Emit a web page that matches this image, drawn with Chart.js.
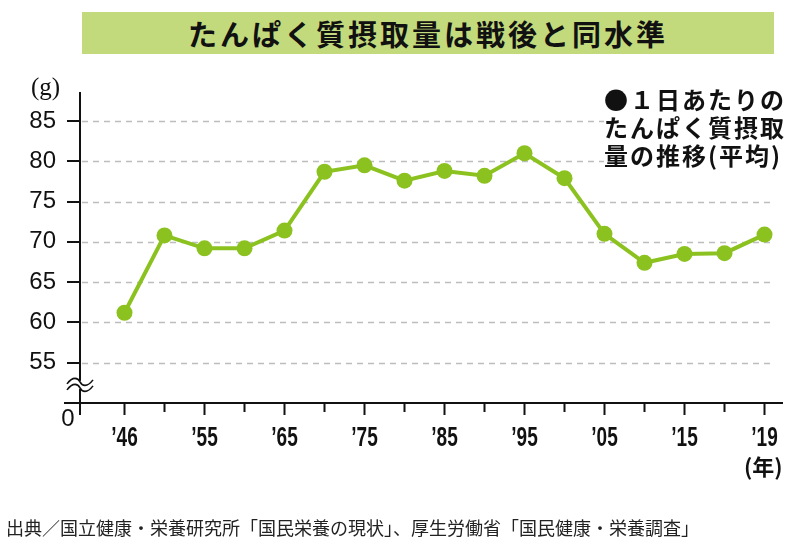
<!DOCTYPE html>
<html><head><meta charset="utf-8">
<script src="https://cdn.jsdelivr.net/npm/chart.js@4/dist/chart.umd.min.js"></script>
<style>
html,body{margin:0;padding:0;background:#fff;}
#wrap{position:relative;width:800px;height:554px;overflow:hidden;font-family:"Noto Sans CJK JP","Noto Sans",sans-serif;color:#111;}
#c{position:absolute;left:0;top:0;}
#title{position:absolute;left:82px;top:12px;width:692px;height:42px;background:#c3da7c;text-align:center;font-weight:bold;font-size:29px;line-height:42px;letter-spacing:3px;color:#111;}
#legend{position:absolute;left:604px;top:85px;width:196px;background:#fff;font-weight:bold;font-size:24px;line-height:28px;letter-spacing:2px;color:#111;white-space:nowrap;}
#unit{position:absolute;left:31px;top:73px;font-family:"Liberation Serif","Times New Roman",serif;font-size:25px;line-height:28px;color:#111;}
#year{position:absolute;left:744px;top:451px;font-weight:bold;font-size:22px;line-height:28px;color:#111;}
#src{position:absolute;left:6px;top:515px;font-size:18px;line-height:24px;color:#222;white-space:nowrap;}
</style></head>
<body>
<div id="wrap">
<canvas id="c" width="800" height="554"></canvas>
<div id="title">たんぱく質摂取量は戦後と同水準</div>
<div id="legend">●１日あたりの<br>たんぱく質摂取<br>量の推移(平均)</div>
<div id="unit">(g)</div>
<div id="year">(年)</div>
<div id="src">出典／国立健康・栄養研究所「国民栄養の現状」、厚生労働省「国民健康・栄養調査」</div>
</div>
<script>
const categories = ["’46","’50","’55","’60","’65","’70","’75","’80","’85","’90","’95","’00","’05","’10","’15","’17","’19"];
const protein = [61.2,70.8,69.2,69.2,71.4,78.7,79.5,77.6,78.8,78.2,81.0,77.9,71.0,67.4,68.5,68.6,70.9];
const labeledCategories = ["’46","’55","’65","’75","’85","’95","’05","’15","’19"];
const yTicks = [55,60,65,70,75,80,85];
const yBase = 50;      // axis break: shown as "0"
const yBaseLabel = "0";

const points = protein.map((v,i)=>({x:i,y:v}));

const axesPlugin = {
  id:'axesPlugin',
  beforeDatasetsDraw(chart){
    const ctx = chart.ctx, xs = chart.scales.x, ys = chart.scales.y, ca = chart.chartArea;
    ctx.save();
    // dashed grid
    ctx.strokeStyle = '#bdbdbd'; ctx.lineWidth = 1.5; ctx.setLineDash([6,5]);
    yTicks.forEach(t=>{
      const y = Math.round(ys.getPixelForValue(t))+0.5;
      ctx.beginPath(); ctx.moveTo(ca.left+2, y); ctx.lineTo(ca.right-8, y); ctx.stroke();
    });
    ctx.setLineDash([]);
    ctx.strokeStyle = '#111'; ctx.lineWidth = 2;
    // y ticks
    yTicks.forEach(t=>{
      const y = Math.round(ys.getPixelForValue(t));
      ctx.beginPath(); ctx.moveTo(ca.left-13, y); ctx.lineTo(ca.left, y); ctx.stroke();
    });
    // x axis
    const yb = ys.getPixelForValue(yBase);
    ctx.beginPath(); ctx.moveTo(ca.left-16, yb); ctx.lineTo(ca.right, yb); ctx.stroke();
    // y axis
    ctx.beginPath(); ctx.moveTo(ca.left, ca.top); ctx.lineTo(ca.left, yb+12); ctx.stroke();
    // x ticks
    categories.forEach((c,i)=>{
      const x = xs.getPixelForValue(i);
      const len = labeledCategories.includes(c) ? 12 : 9;
      ctx.beginPath(); ctx.moveTo(x, yb); ctx.lineTo(x, yb+len); ctx.stroke();
    });
    // x labels (condensed)
    ctx.fillStyle = '#111';
    ctx.font = 'bold 28px "Liberation Sans", Arial, sans-serif';
    ctx.textAlign = 'center'; ctx.textBaseline = 'middle';
    categories.forEach((c,i)=>{
      if(!labeledCategories.includes(c)) return;
      const x = xs.getPixelForValue(i);
      ctx.save();
      ctx.translate(x, yb+35);
      ctx.scale(0.68, 1);
      ctx.fillText(c, 0, 0);
      ctx.restore();
    });
    // axis break
    const yk = (ys.getPixelForValue(55)+yb)/2 + 2;
    const x0 = ca.left;
    ctx.fillStyle = '#fff';
    ctx.fillRect(x0-3, yk-4, 6, 8);
    ctx.lineWidth = 1.6;
    [-3, 3].forEach(d=>{
      ctx.beginPath();
      ctx.moveTo(x0-13, yk+d+2);
      ctx.bezierCurveTo(x0-7, yk+d-6, x0-2, yk+d-4, x0, yk+d);
      ctx.bezierCurveTo(x0+2, yk+d+4, x0+7, yk+d+6, x0+13, yk+d-2);
      ctx.stroke();
    });
    // "0" label
    ctx.fillStyle = '#111';
    ctx.font = '24px "Liberation Sans", Arial, sans-serif';
    ctx.textAlign = 'center'; ctx.textBaseline = 'middle';
    ctx.fillText(yBaseLabel, ca.left-12, yb+16);
    ctx.restore();
  }
};

new Chart(document.getElementById('c'), {
  type:'line',
  data:{datasets:[{
    data: points,
    borderColor:'#8cc220',
    backgroundColor:'#8cc220',
    borderWidth:4,
    pointRadius:8,
    pointHoverRadius:8,
    pointBorderWidth:0,
    tension:0
  }]},
  options:{
    responsive:false,
    animation:false,
    events:[],
    layout:{padding:{top:92,right:17,bottom:0,left:0}},
    plugins:{legend:{display:false},tooltip:{enabled:false},title:{display:false}},
    scales:{
      x:{
        type:'linear', min:-1.1125, max:16.4625,
        afterBuildTicks(s){ s.ticks = categories.map((c,i)=>({value:i})); },
        afterFit(s){ s.height = 151; },
        grid:{display:false, drawTicks:false},
        border:{display:false},
        ticks:{display:false}
      },
      y:{
        min:yBase, max:88.6,
        afterBuildTicks(s){ s.ticks = yTicks.map(v=>({value:v})); },
        afterFit(s){ s.width = 80; },
        grid:{display:false, drawTicks:false},
        border:{display:false},
        ticks:{padding:24, color:'#111', font:{family:'"Liberation Sans",Arial,sans-serif', size:24}}
      }
    }
  },
  plugins:[axesPlugin]
});
</script>
</body></html>
